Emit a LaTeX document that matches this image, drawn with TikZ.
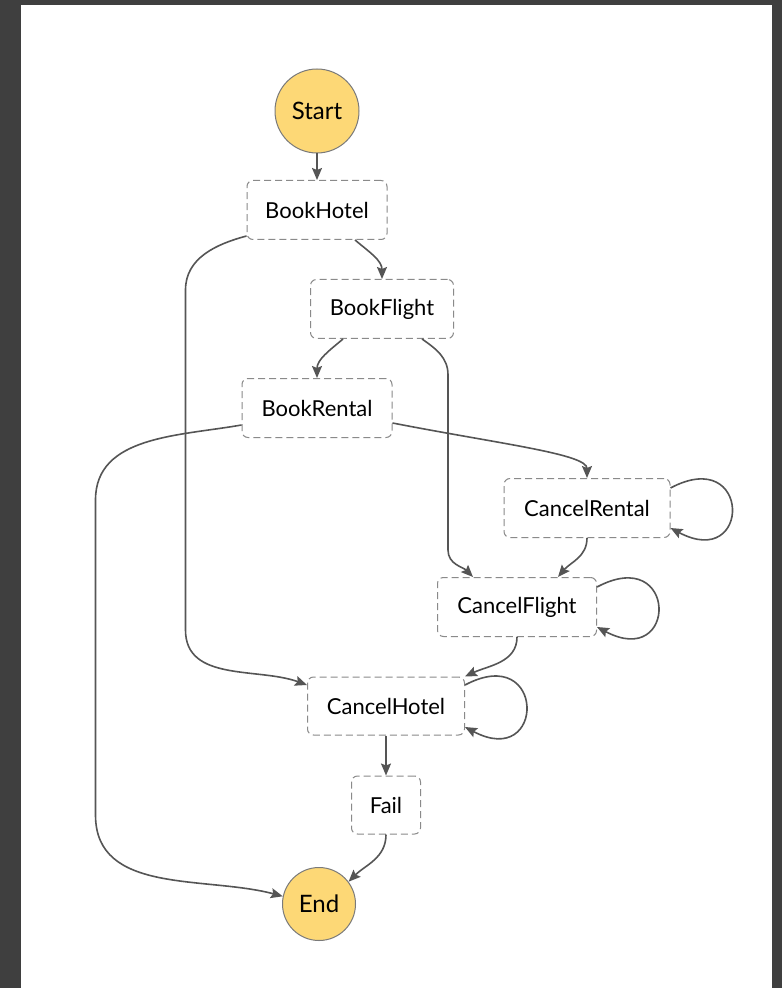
\documentclass[tikz,border=0pt]{standalone}
\usepackage{fontspec}
\setmainfont{Lato}
\usetikzlibrary{arrows.meta, positioning}
\definecolor{framegray}{HTML}{3F3F3F}
\definecolor{stategold}{HTML}{FDD876}
\definecolor{ringgray}{HTML}{7A7A7A}
\definecolor{dashgray}{HTML}{8A8A8A}
\definecolor{linegray}{HTML}{555555}
\tikzset{->, >={Stealth[length=6pt, width=5pt, inset=1pt]}, x=0.5pt, y=0.5pt,
    terminal/.style={circle, draw=ringgray, fill=stategold, line width=0.5pt, font=\fontsize{12}{14}\selectfont},
    stepbox/.style={rectangle, rounded corners=3pt, draw=dashgray, dash pattern=on 3.5pt off 2pt, line width=0.5pt, minimum height=29.5pt, font=\fontsize{11}{13}\selectfont},
    flow/.style={draw=linegray, line width=0.8pt},
    selfloop/.style={flow, distance=46pt}}

\begin{document}
\begin{tikzpicture}
        % frame
        \fill[framegray] (0,0) rectangle (782,-988);
        \fill[white] (21,-5) rectangle (772,-988);

        \node[terminal, minimum size=42pt] (start) at (317,-111) {Start};
        \node[stepbox, minimum width=70pt] (bookhotel) at (317,-210) {BookHotel};
        \node[stepbox, minimum width=71.5pt] (bookflight) at (382,-309) {BookFlight};
        \node[stepbox, minimum width=75pt] (bookrental) at (317,-408) {BookRental};
        \node[stepbox, minimum width=83pt] (cancelrental) at (587,-508) {CancelRental};
        \node[stepbox, minimum width=79.5pt] (cancelflight) at (517,-607) {CancelFlight};
        \node[stepbox, minimum width=78.5pt, minimum height=29pt] (cancelhotel) at (386,-706) {CancelHotel};
        \node[stepbox, minimum width=34.5pt, minimum height=29pt] (fail) at (386,-805) {Fail};
        \node[terminal, minimum size=36.5pt] (end) at (319,-904) {End};

        \draw[flow] (start) -- (bookhotel);
        \draw[flow] ([xshift=19pt]bookhotel.south) to[out=-40, in=90] (bookflight.north);
        \draw[flow] ([yshift=2pt]bookhotel.south west) to[out=195, in=90] ++(-30.5pt,-27pt)
            -- ++(0,-170pt) to[out=-90, in=160] ([yshift=10.5pt]cancelhotel.west);
        \draw[flow] ([xshift=-19.5pt]bookflight.south) to[out=-140, in=90] (bookrental.north);
        \draw[flow] ([xshift=20pt]bookflight.south) to[out=-35, in=90] ++(13pt,-18pt)
            -- ++(0,-87.5pt) to[out=-90, in=135] ([xshift=-22pt]cancelflight.north);
        \draw[flow] ([yshift=-7.5pt]bookrental.east) to[out=-11, in=90, out distance=55pt, in distance=12pt] (cancelrental.north);
        \draw[flow] ([yshift=-8.5pt]bookrental.west) to[out=190, in=90] ++(-73pt,-37.5pt)
            -- ++(0,-157.5pt) to[out=-90, in=165] (end.168);
        \draw[flow] (cancelrental.south) to[out=-90, in=50] ([xshift=20.5pt]cancelflight.north);
        \draw[selfloop] ([yshift=10pt]cancelrental.east) to[out=28, in=-28] ([yshift=-10pt]cancelrental.east);
        \draw[flow] (cancelflight.south) to[out=-90, in=25] (cancelhotel.north east);
        \draw[selfloop] ([yshift=10pt]cancelflight.east) to[out=28, in=-28] ([yshift=-10pt]cancelflight.east);
        \draw[selfloop] ([yshift=10.5pt]cancelhotel.east) to[out=28, in=-28] ([yshift=-10.5pt]cancelhotel.east);
        \draw[flow] (cancelhotel) -- (fail);
        \draw[flow] (fail.south) to[out=-90, in=45] (end.37);
    \end{tikzpicture}
\end{document}
